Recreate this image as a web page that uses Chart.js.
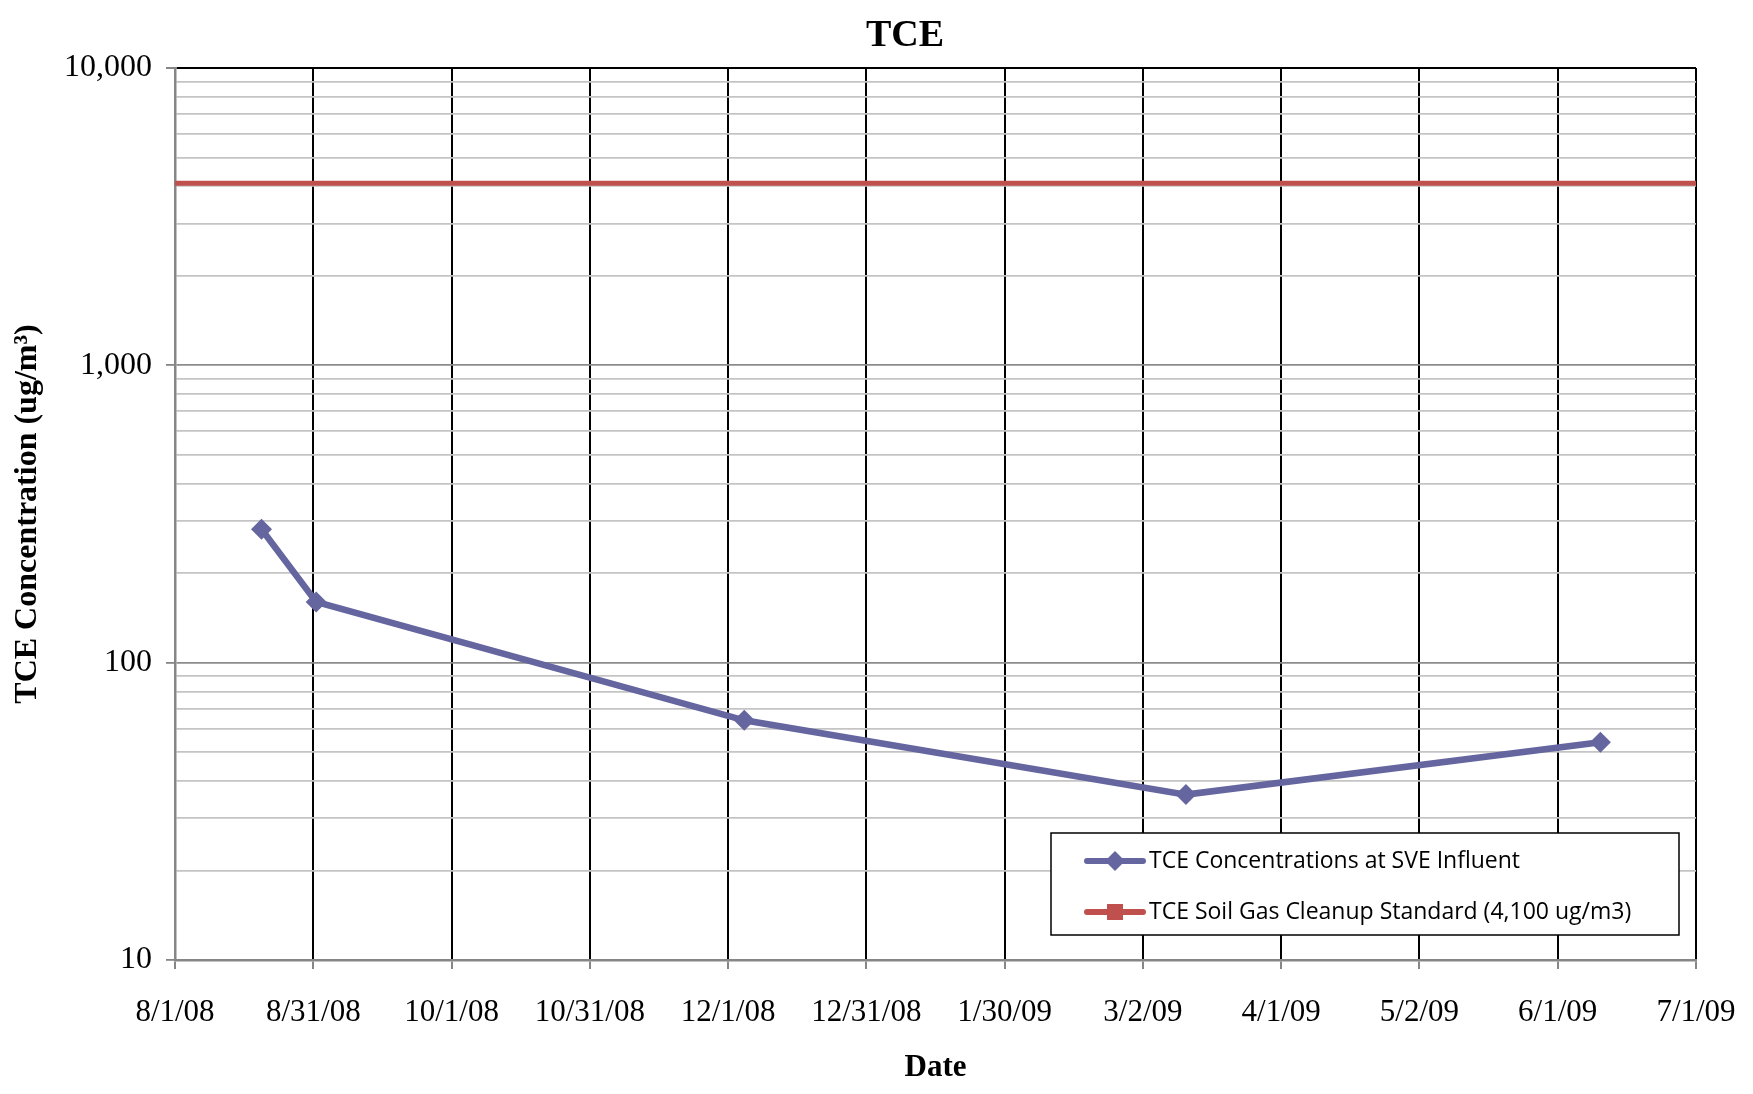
<!DOCTYPE html>
<html>
<head>
<meta charset="utf-8">
<script src="https://cdn.jsdelivr.net/npm/chart.js@4.4.0/dist/chart.umd.min.js"></script>
<style>
  html, body { margin: 0; padding: 0; background: #fff; }
  #wrap { width: 1753px; height: 1094px; }
</style>
</head>
<body>
<div id="wrap"><canvas id="tceChart" width="1753" height="1094"></canvas></div>
<script>
// sample dates and TCE results
const sampleDates = ['8/20/08', '9/1/08', '12/4/08', '3/11/09', '6/10/09'];
const tceValues = [281, 160, 64, 36, 54];

// cleanup standard spans the whole axis
const standardDates = ['8/1/08', '7/1/09'];
const standardValue = 4100;

const xTickLabels = ['8/1/08', '8/31/08', '10/1/08', '10/31/08', '12/1/08', '12/31/08',
                     '1/30/09', '3/2/09', '4/1/09', '5/2/09', '6/1/09', '7/1/09'];
const yTickLabels = { 10: '10', 100: '100', 1000: '1,000', 10000: '10,000' };
const chartTitle = 'TCE';

// days since 8/1/08
function dayNum(s) {
  const [m, d, y] = s.split('/').map(Number);
  return (Date.UTC(2000 + y, m - 1, d) - Date.UTC(2008, 7, 1)) / 86400000;
}

const xMax = dayNum(xTickLabels[xTickLabels.length - 1]);
const xStep = xMax / (xTickLabels.length - 1);

const serif = "'Liberation Serif', 'Times New Roman', serif";
const sans = "'Open Sans', 'Noto Sans', sans-serif";

// the Excel title sits a bit left of the plot centre, so it is drawn by hand
const titleText = {
  id: 'titleText',
  afterDraw(chart) {
    const ctx = chart.ctx;
    ctx.save();
    ctx.fillStyle = '#000';
    ctx.font = 'bold 38px ' + serif;
    ctx.textAlign = 'center';
    ctx.textBaseline = 'middle';
    ctx.fillText(chartTitle, 905, 36);
    ctx.restore();
  }
};

// legend drawn as a boxed panel inside the plot, like the Excel one
const boxLegend = {
  id: 'boxLegend',
  afterDraw(chart) {
    const ctx = chart.ctx;
    const area = chart.chartArea;
    const w = 628, h = 102;
    const x0 = area.right - 17 - w;
    const y0 = area.bottom - 25 - h;
    ctx.save();
    ctx.fillStyle = '#fff';
    ctx.fillRect(x0, y0, w, h);
    ctx.strokeStyle = '#000';
    ctx.lineWidth = 1.5;
    ctx.strokeRect(x0, y0, w, h);

    chart.data.datasets.forEach(function(ds, i) {
      const y = y0 + 28 + i * 51;
      ctx.strokeStyle = ds.borderColor;
      ctx.lineWidth = 6;
      ctx.lineCap = 'round';
      ctx.beginPath();
      ctx.moveTo(x0 + 36, y);
      ctx.lineTo(x0 + 92, y);
      ctx.stroke();

      ctx.fillStyle = ds.borderColor;
      const cx = x0 + 64;
      if (i === 0) {
        ctx.beginPath();
        ctx.moveTo(cx, y - 10);
        ctx.lineTo(cx + 10, y);
        ctx.lineTo(cx, y + 10);
        ctx.lineTo(cx - 10, y);
        ctx.closePath();
        ctx.fill();
      } else {
        ctx.fillRect(cx - 8, y - 8, 16, 16);
      }

      ctx.fillStyle = '#000';
      ctx.font = '23px ' + sans;
      ctx.textBaseline = 'middle';
      ctx.textAlign = 'left';
      ctx.fillText(ds.label, x0 + 98, y);
    });
    ctx.restore();
  }
};

const ctx = document.getElementById('tceChart');

new Chart(ctx, {
  type: 'line',
  data: {
    datasets: [{
      label: 'TCE Concentrations at SVE Influent',
      data: sampleDates.map((d, i) => ({ x: dayNum(d), y: tceValues[i] })),
      borderColor: '#65659F',
      backgroundColor: '#65659F',
      borderWidth: 6.5,
      pointStyle: 'rectRot',
      pointRadius: 10.5,
      pointBorderWidth: 0,
      tension: 0
    }, {
      label: 'TCE Soil Gas Cleanup Standard (4,100 ug/m3)',
      data: standardDates.map(d => ({ x: dayNum(d), y: standardValue })),
      borderColor: '#C0504D',
      backgroundColor: '#C0504D',
      borderWidth: 5,
      pointRadius: 0,
      tension: 0
    }]
  },
  options: {
    responsive: false,
    animation: false,
    devicePixelRatio: 1,
    layout: { padding: { left: 0, right: 57, top: 68, bottom: 0 } },
    plugins: {
      legend: { display: false },
      tooltip: { enabled: false },
      title: { display: false }
    },
    scales: {
      x: {
        type: 'linear',
        min: 0,
        max: xMax,
        afterBuildTicks(scale) {
          scale.ticks = xTickLabels.map((l, i) => ({ value: i * xStep }));
        },
        afterFit(scale) {
          scale.height = 134;
          // end labels may hang over the plot edges
          scale.paddingLeft = 0;
          scale.paddingRight = 0;
        },
        ticks: {
          autoSkip: false,
          maxRotation: 0,
          color: '#000',
          padding: 25,
          font: { family: serif, size: 31 },
          callback: (v, i) => xTickLabels[i]
        },
        grid: {
          color: c => c.index === 0 ? 'rgba(0,0,0,0)' : '#000',
          lineWidth: 2,
          tickColor: '#868686',
          tickLength: 9
        },
        border: { color: '#868686', width: 2.5 },
        title: {
          display: true,
          text: 'Date',
          color: '#000',
          font: { family: serif, size: 31, weight: 'bold' },
          padding: { top: 0, bottom: 7 }
        }
      },
      y: {
        type: 'logarithmic',
        min: 10,
        max: 10000,
        afterBuildTicks(scale) {
          const t = [];
          for (let p = 10; p < 10000; p *= 10) {
            for (let k = 1; k < 10; k++) t.push({ value: k * p });
          }
          t.push({ value: 10000 });
          scale.ticks = t;
        },
        afterFit(scale) { scale.width = 175; },
        ticks: {
          autoSkip: false,
          color: '#000',
          padding: 14,
          font: { family: serif, size: 32 },
          callback: v => yTickLabels[v] || ''
        },
        grid: {
          color: c => {
            const v = c.tick.value;
            if (v === 10000) return '#000';
            if (yTickLabels[v]) return '#8C8C8C';
            return '#C4C4C4';
          },
          lineWidth: c => c.tick.value === 10000 ? 2 : 1.8,
          tickColor: c => yTickLabels[c.tick.value] ? '#868686' : 'rgba(0,0,0,0)',
          tickLength: 9
        },
        border: { color: '#868686', width: 2.5 },
        title: {
          display: true,
          text: 'TCE Concentration (ug/m³)',
          color: '#000',
          font: { family: serif, size: 32, weight: 'bold' },
          padding: { top: 9, bottom: 0 }
        }
      }
    }
  },
  plugins: [titleText, boxLegend]
});
</script>
</body>
</html>
